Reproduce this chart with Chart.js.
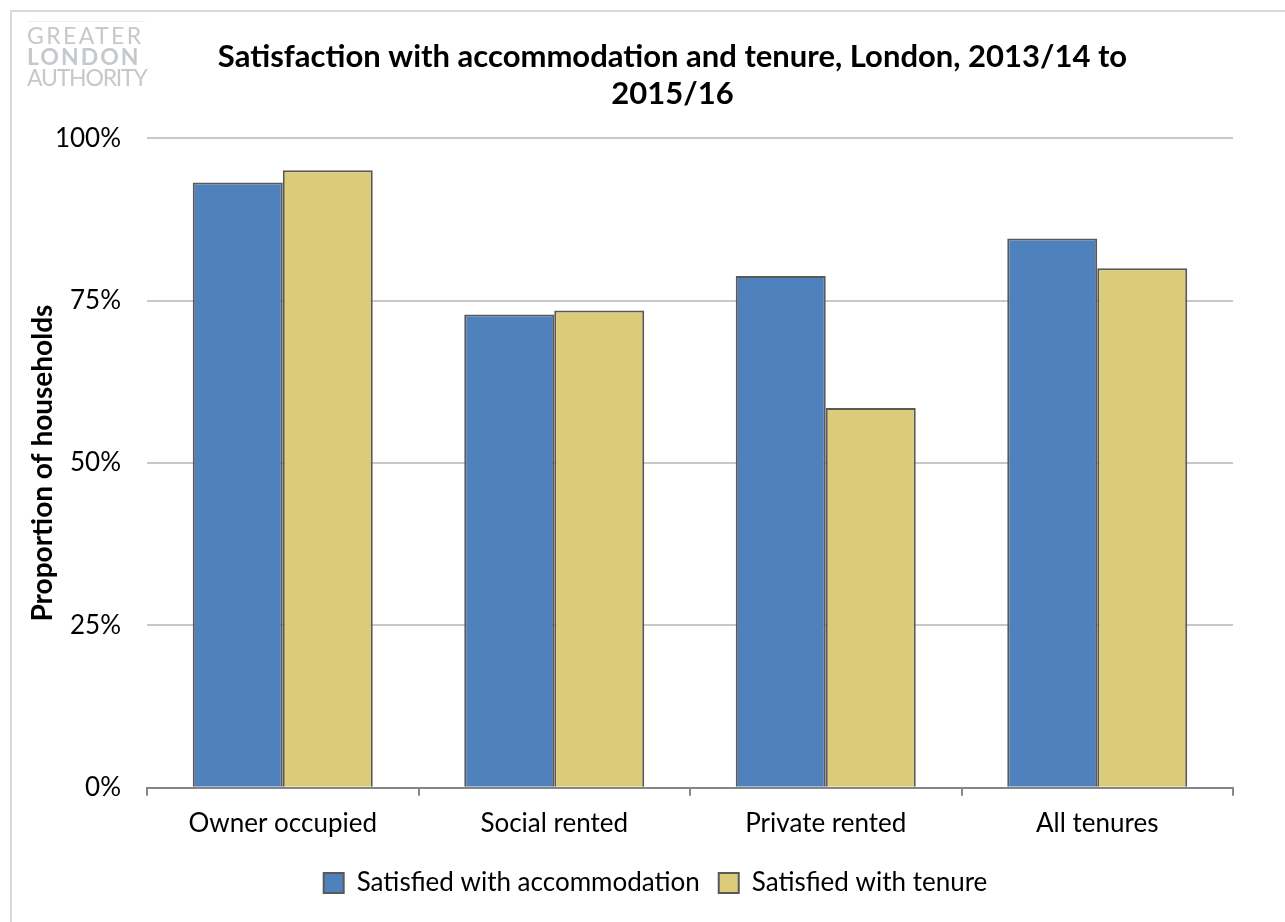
<!DOCTYPE html>
<html>
<head>
<meta charset="utf-8">
<script src="https://cdn.jsdelivr.net/npm/chart.js@4"></script>
<style>
  body { margin: 0; background: #fff; }
  #frame { position: absolute; left: 10px; top: 10px; width: 1300px; height: 930px; border: 2px solid #d9d9d9; box-sizing: border-box; }
  #logo { position: absolute; left: 27px; top: 21px; width: 118px; color: #c5c9cc; font-family: "Lato", sans-serif; font-size: 23px; line-height: 21px; border-top: 1px solid #eceeef; padding-top: 3px; }
  #logo .g { letter-spacing: 2.4px; }
  #logo .b { font-weight: bold; letter-spacing: 2px; }
  #logo .a { letter-spacing: -1.2px; }
  #wrap { position: absolute; left: 0; top: 0; width: 1285px; height: 922px; }
</style>
</head>
<body>
<div id="frame"></div>
<div id="wrap"><canvas id="grafico"></canvas></div>
<div id="logo"><div class="g">GREATER</div><div class="b">LONDON</div><div class="a">AUTHORITY</div></div>
<script>
// datos
var categorias = ['Owner occupied', 'Social rented', 'Private rented', 'All tenures'];
var satisfechoAlojamiento = [93.2, 72.9, 78.8, 84.6];
var satisfechoTenencia = [95.1, 73.5, 58.5, 80.0];
var ticksY = [0, 25, 50, 75, 100];

var fuente = '"Lato", "Open Sans", sans-serif';

// mover titulo y leyenda a la derecha como en el original
var desplazar = {
  id: 'desplazar',
  afterLayout: function (chart) {
    if (chart.titleBlock) { chart.titleBlock.left += 43; chart.titleBlock.right += 43; }
    if (chart.legend) { chart.legend.left += 26; chart.legend.right += 26; }
  }
};

new Chart(document.getElementById('grafico'), {
  type: 'bar',
  data: {
    labels: categorias,
    datasets: [{
      label: 'Satisfied with accommodation',
      data: satisfechoAlojamiento,
      backgroundColor: '#4f81bd',
      borderColor: '#595959',
      borderWidth: 2
    }, {
      label: 'Satisfied with tenure',
      data: satisfechoTenencia,
      backgroundColor: '#dccb78',
      borderColor: '#595959',
      borderWidth: 2
    }]
  },
  plugins: [desplazar],
  options: {
    responsive: true,
    maintainAspectRatio: false,
    animation: false,
    datasets: { bar: { categoryPercentage: 0.663, barPercentage: 1 } },
    layout: { padding: { left: 26, right: 52, top: 18, bottom: 16 } },
    plugins: {
      title: {
        display: true,
        text: ['Satisfaction with accommodation and tenure, London, 2013/14 to', '2015/16'],
        color: '#000',
        font: { family: fuente, size: 31, weight: 'bold' },
        padding: { top: 20, bottom: 26 },
        lineHeight: 1.26
      },
      legend: {
        position: 'bottom',
        labels: {
          color: '#000',
          font: { family: fuente, size: 26 },
          boxWidth: 20,
          boxHeight: 20,
          padding: 19
        }
      },
      tooltip: { enabled: false }
    },
    scales: {
      x: {
        grid: { display: true, drawOnChartArea: false, offset: true, tickLength: 8, color: '#868686', lineWidth: 2 },
        border: { color: '#868686', width: 2 },
        ticks: { color: '#000', font: { family: fuente, size: 26 }, padding: 12 }
      },
      y: {
        min: 0,
        max: 100,
        afterBuildTicks: function (eje) { eje.ticks = ticksY.map(function (v) { return { value: v }; }); },
        afterFit: function (eje) { eje.width = 121; },
        grid: { color: '#c8c8c8', lineWidth: 2, drawTicks: false },
        border: { display: false },
        ticks: { color: '#000', font: { family: fuente, size: 26 }, padding: 26, callback: function (v) { return v + '%'; } },
        title: { display: true, text: 'Proportion of households', color: '#000', font: { family: fuente, size: 28, weight: 'bold' }, padding: { top: 0, bottom: 2 } }
      }
    }
  }
});
</script>
</body>
</html>
